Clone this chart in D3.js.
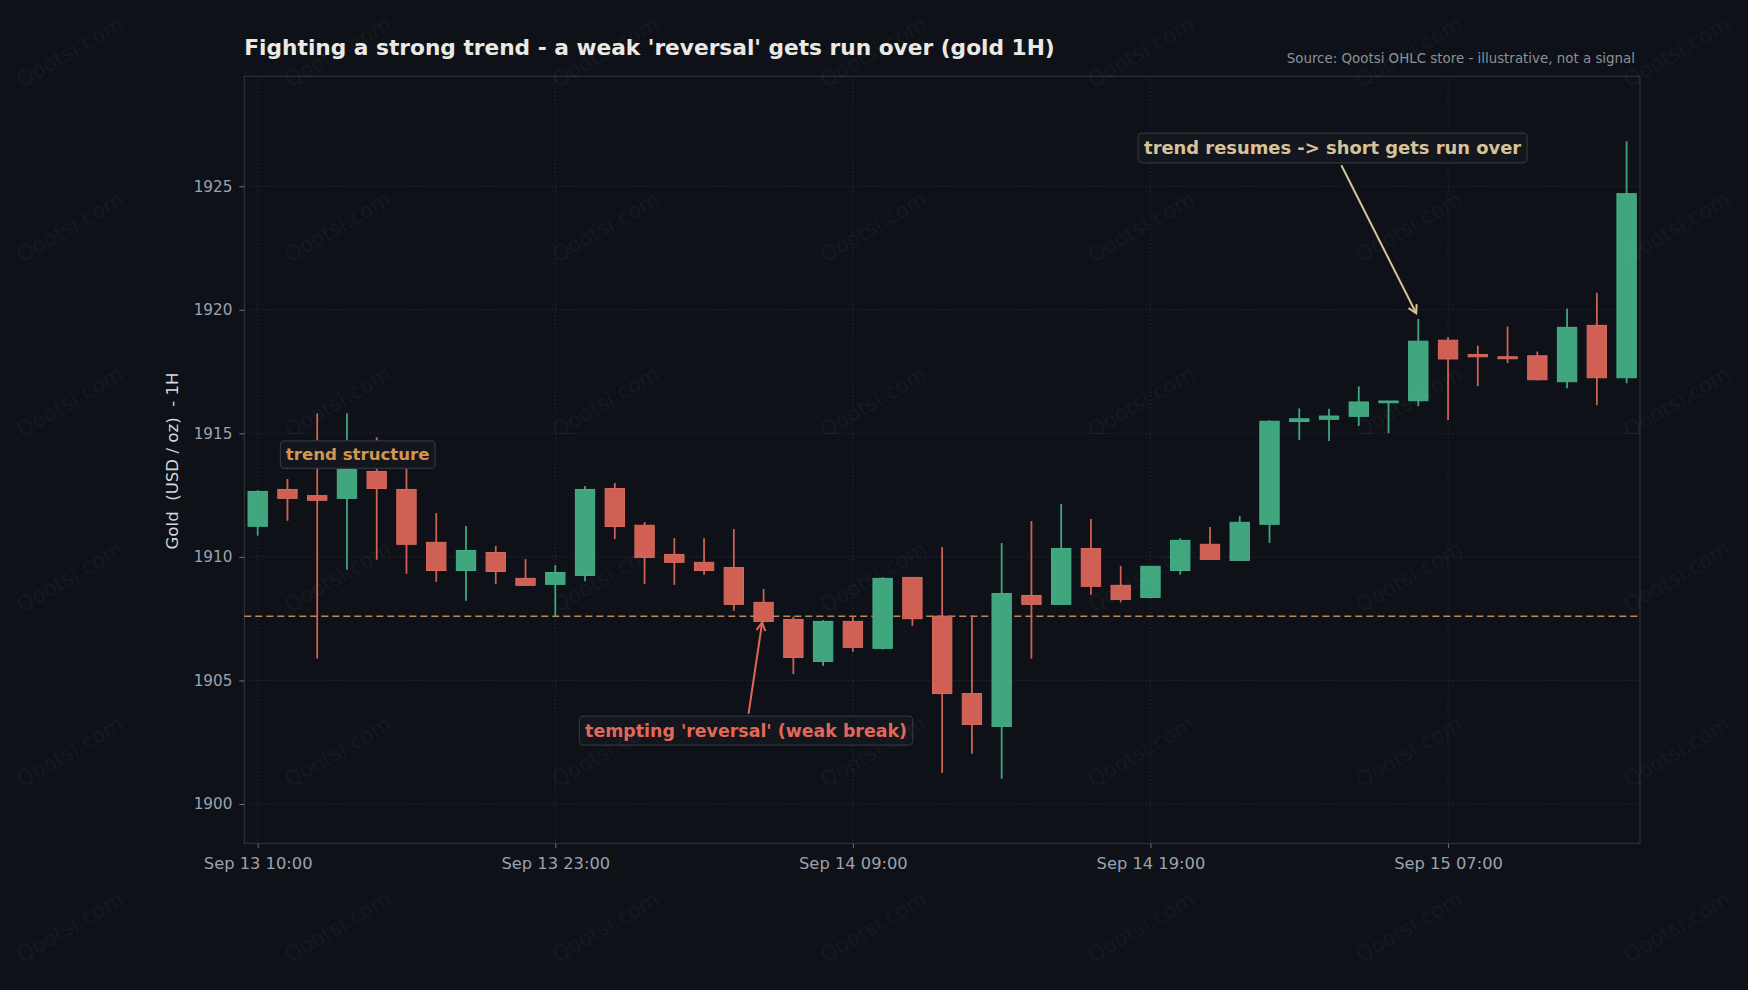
<!DOCTYPE html>
<html><head><meta charset="utf-8">
<script src="https://cdn.jsdelivr.net/npm/d3@7"></script>
<style>html,body{margin:0;padding:0;background:#0e1117;} svg{display:block;font-family:"DejaVu Sans",sans-serif;}</style>
</head><body><svg id="chart" width="1748" height="990"></svg>
<script>
// ---- data (gold 1H OHLC) ----
const opens  = [1911.24,1912.73,1912.48,1912.37,1913.46,1912.73,1910.59,1909.45,1910.18,1909.13,
                1908.89,1909.25,1912.77,1911.28,1910.10,1909.78,1909.57,1908.16,1907.47,1905.77,
                1907.39,1906.30,1909.17,1907.60,1904.47,1903.14,1908.44,1908.08,1910.34,1908.85,
                1908.36,1909.45,1910.51,1909.86,1911.32,1915.48,1915.57,1915.69,1916.24,1916.32,
                1918.77,1918.19,1918.10,1918.14,1917.09,1919.37,1917.25];
const highs  = [1912.70,1913.15,1915.81,1915.81,1914.84,1913.80,1911.77,1911.25,1910.44,1909.91,
                1909.67,1912.87,1912.99,1911.41,1910.76,1910.76,1911.13,1908.70,1907.58,1907.44,
                1907.58,1909.18,1909.17,1910.40,1907.63,1910.56,1911.45,1912.14,1911.53,1909.63,
                1909.62,1910.75,1911.21,1911.65,1915.53,1916.01,1916.00,1916.90,1916.31,1919.63,
                1918.90,1918.55,1919.32,1918.31,1920.05,1920.69,1926.82];
const lows   = [1910.86,1911.46,1905.89,1909.48,1909.89,1909.32,1908.99,1908.23,1908.91,1908.83,
                1907.60,1909.02,1910.72,1908.91,1908.87,1909.28,1907.82,1907.35,1905.26,1905.59,
                1906.16,1906.26,1907.21,1901.26,1902.03,1901.02,1905.88,1908.07,1908.47,1908.16,
                1908.32,1909.28,1909.87,1909.86,1910.57,1914.73,1914.69,1915.30,1915.01,1916.10,
                1915.54,1916.91,1917.84,1917.15,1916.83,1916.14,1917.03];
const closes = [1912.65,1912.37,1912.29,1913.60,1912.77,1910.51,1909.45,1910.26,1909.41,1908.85,
                1909.37,1912.73,1911.23,1909.98,1909.78,1909.45,1908.08,1907.39,1905.93,1907.39,
                1906.34,1909.13,1907.50,1904.47,1903.22,1908.52,1908.08,1910.34,1908.81,1908.28,
                1909.62,1910.67,1909.90,1911.40,1915.49,1915.59,1915.70,1916.27,1916.31,1918.73,
                1918.01,1918.10,1918.02,1917.17,1919.29,1917.25,1924.70];
const xTickIndex  = [0, 10, 20, 30, 40];
const xTickLabels = ["Sep 13 10:00","Sep 13 23:00","Sep 14 09:00","Sep 14 19:00","Sep 15 07:00"];
const yTicks = [1900, 1905, 1910, 1915, 1920, 1925];
const levelValue = 1907.6;
const annoTexts = ["trend structure", "tempting 'reversal' (weak break)", "trend resumes -> short gets run over"];
const annoX     = [3.36, 16.41, 36.12];
const annoY     = [1914.14, 1902.97, 1926.55];
const arrowTipX = [null, 16.95, 38.93];
const arrowTipY = [null, 1907.34, 1919.86];
const annoColors = ["#d4954f", "#e2685a", "#d8c29a"];
const annoSizes  = [16.6, 17.4, 17.9];
const titleText  = "Fighting a strong trend - a weak 'reversal' gets run over (gold 1H)";
const sourceText = "Source: Qootsi OHLC store - illustrative, not a signal";
const yLabelText = "Gold  (USD / oz)  - 1H";
const watermark  = "Qootsi.com";

// ---- layout ----
const W = 1748, H = 990;
const M = {left: 244.3, right: 1640, top: 76.3, bottom: 843.3};
const svg = d3.select("#chart");
svg.append("rect").attr("width", W).attr("height", H).attr("fill", "#0e1117");

const x = d3.scaleLinear().domain([-0.45, 46.45]).range([M.left, M.right]);
const y = d3.scaleLinear().domain([1898.41, 1929.45]).range([M.bottom, M.top]);

const GREEN = "#3fa67e", RED = "#d06054";
const data = opens.map((o, i) => ({i, o, h: highs[i], l: lows[i], c: closes[i]}));

// grid
const grid = svg.append("g");
grid.selectAll("line.hg").data(yTicks).join("line")
  .attr("x1", M.left).attr("x2", M.right)
  .attr("y1", d => y(d)).attr("y2", d => y(d))
  .attr("stroke", "#2c3139").attr("stroke-width", 1).attr("stroke-dasharray", "1.2,2.6");
grid.selectAll("line.vg").data(xTickIndex).join("line")
  .attr("x1", d => x(d)).attr("x2", d => x(d))
  .attr("y1", M.top).attr("y2", M.bottom)
  .attr("stroke", "#2c3139").attr("stroke-width", 1).attr("stroke-dasharray", "1.2,2.6");

// frame
svg.append("rect").attr("x", M.left).attr("y", M.top)
  .attr("width", M.right - M.left).attr("height", M.bottom - M.top)
  .attr("fill", "none").attr("stroke", "#34383f").attr("stroke-width", 1);

// axes
const yAxis = d3.axisLeft(y).tickValues(yTicks).tickSize(5).tickPadding(7).tickFormat(d3.format("d"));
const gy = svg.append("g").attr("transform", `translate(${M.left},0)`).call(yAxis);
gy.select(".domain").remove();
gy.selectAll(".tick line").attr("stroke", "#6b7079");
gy.selectAll(".tick text").attr("fill", "#9ca2ad").attr("font-size", 15.2).attr("font-family", "DejaVu Sans");

const xAxis = d3.axisBottom(x).tickValues(xTickIndex).tickSize(5).tickPadding(9.5)
  .tickFormat((d, k) => xTickLabels[k]);
const gx = svg.append("g").attr("transform", `translate(0,${M.bottom})`).call(xAxis);
gx.select(".domain").remove();
gx.selectAll(".tick line").attr("stroke", "#6b7079");
gx.selectAll(".tick text").attr("fill", "#9ca2ad").attr("font-size", 16.3).attr("font-family", "DejaVu Sans");

// level line
svg.append("line").attr("x1", M.left).attr("x2", M.right)
  .attr("y1", y(levelValue)).attr("y2", y(levelValue))
  .attr("stroke", "#bf8850").attr("stroke-width", 1.6).attr("stroke-dasharray", "7,4");

// candles
const bw = x(0.65) - x(0);
const cg = svg.append("g");
cg.selectAll("line.wick").data(data).join("line")
  .attr("x1", d => x(d.i)).attr("x2", d => x(d.i))
  .attr("y1", d => y(d.h)).attr("y2", d => y(d.l))
  .attr("stroke", d => d.c >= d.o ? GREEN : RED).attr("stroke-width", 1.8);
cg.selectAll("rect.body").data(data).join("rect")
  .attr("x", d => x(d.i) - bw / 2).attr("width", bw)
  .attr("y", d => y(Math.max(d.o, d.c)))
  .attr("height", d => Math.max(1.6, Math.abs(y(d.o) - y(d.c))))
  .attr("fill", d => d.c >= d.o ? GREEN : RED)
  .attr("stroke", d => d.c >= d.o ? "#46b088" : "#d96a5c").attr("stroke-width", 1);

// annotations
const defs = svg.append("defs");
annoColors.forEach((c, k) => {
  defs.append("marker").attr("id", "ah" + k).attr("viewBox", "-10 -6 12 12")
    .attr("refX", 0).attr("refY", 0).attr("markerWidth", 12).attr("markerHeight", 12)
    .attr("markerUnits", "userSpaceOnUse").attr("orient", "auto")
    .append("path").attr("d", "M-8,-4.5 L0,0 L-8,4.5").attr("fill", "none")
    .attr("stroke", c).attr("stroke-width", 2);
});
const ag = svg.append("g");
annoTexts.forEach((t, k) => {
  const cx = x(annoX[k]), cy = y(annoY[k]);
  const fs = annoSizes[k];
  const g = ag.append("g");
  const rect = g.append("rect");
  const txt = g.append("text").attr("x", cx).attr("y", cy)
    .attr("text-anchor", "middle").attr("dominant-baseline", "central")
    .attr("font-size", fs).attr("font-weight", "bold").attr("fill", annoColors[k]).text(t);
  const bb = txt.node().getBBox();
  const px = fs * 0.33, bh = fs * 1.66;
  rect.attr("x", bb.x - px).attr("y", cy - bh / 2).attr("width", bb.width + 2 * px).attr("height", bh)
    .attr("rx", 4).attr("fill", "#13161c").attr("stroke", "#31353c").attr("stroke-width", 1.2);
  if (arrowTipX[k] !== null) {
    const tx = x(arrowTipX[k]), ty = y(arrowTipY[k]);
    const dy = ty - cy, dx = tx - cx;
    const edge = (dy < 0 ? -1 : 1) * (bh / 2 + 2.5);
    const sx = cx + dx * (edge / dy), sy = cy + edge;
    ag.append("line").attr("x1", sx).attr("y1", sy).attr("x2", tx).attr("y2", ty)
      .attr("stroke", annoColors[k]).attr("stroke-width", 2)
      .attr("marker-end", `url(#ah${k})`);
  }
});

// title, source, y label
svg.append("text").attr("x", M.left).attr("y", 55).attr("font-size", 21.7).attr("font-weight", "bold")
  .attr("fill", "#ebe9e4").text(titleText);
svg.append("text").attr("x", 1635).attr("y", 63).attr("text-anchor", "end").attr("font-size", 13.4)
  .attr("fill", "#8c919a").text(sourceText);
svg.append("text").attr("transform", `translate(172.3,461) rotate(-90)`)
  .attr("text-anchor", "middle").attr("dominant-baseline", "central")
  .attr("font-size", 16.6).attr("fill", "#d5d7db").attr("xml:space", "preserve")
  .style("white-space", "pre").text(yLabelText);

// watermark tiling
const wm = svg.append("g").attr("pointer-events", "none");
for (let r = 0; r < 6; r++) {
  for (let c = 0; c < 7; c++) {
    const wx = 70 + c * 267.8, wy = 52 + r * 175;
    wm.append("text").attr("transform", `translate(${wx},${wy}) rotate(-30)`)
      .attr("text-anchor", "middle").attr("dominant-baseline", "central")
      .attr("font-size", 21).attr("fill", "#ffffff").attr("fill-opacity", 0.05).text(watermark);
  }
}
</script></body></html>
